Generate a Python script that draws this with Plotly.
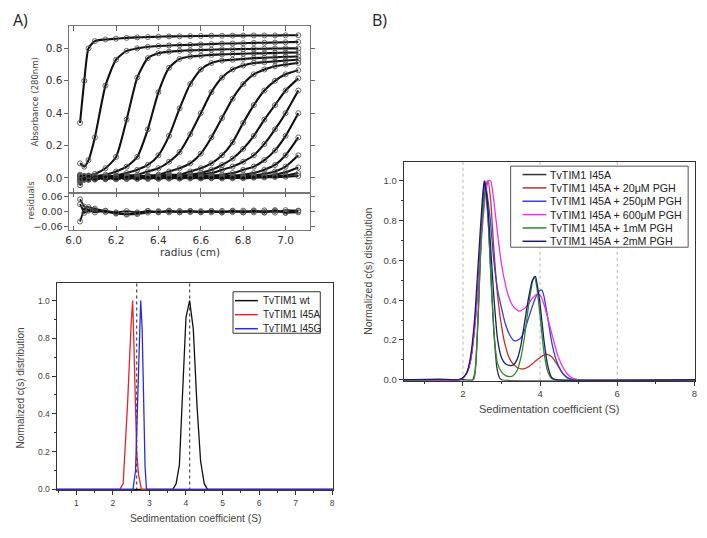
import plotly.graph_objects as go

W, H = 707, 538

# ---------------- Panel A (top): absorbance scans ----------------
radius_cm = [6.03, 6.05, 6.07, 6.10, 6.15, 6.20, 6.25, 6.30, 6.35, 6.40, 6.45, 6.50,
             6.55, 6.60, 6.65, 6.70, 6.75, 6.80, 6.85, 6.90, 6.95, 7.00, 7.06]

scan_01 = [0.34, 0.60, 0.80, 0.845, 0.855, 0.86, 0.865, 0.868, 0.87, 0.872, 0.874, 0.875,
           0.876, 0.877, 0.878, 0.878, 0.879, 0.879, 0.88, 0.88, 0.88, 0.881, 0.881]
scan_02 = [0.09, 0.07, 0.11, 0.25, 0.57, 0.73, 0.785, 0.80, 0.81, 0.815, 0.818, 0.82,
           0.822, 0.825, 0.827, 0.83, 0.83, 0.832, 0.834, 0.835, 0.836, 0.838, 0.84]
scan_03 = [-0.03, 0.01, 0.015, 0.025, 0.06, 0.13, 0.36, 0.62, 0.74, 0.77, 0.78, 0.785,
           0.788, 0.79, 0.792, 0.794, 0.795, 0.796, 0.797, 0.798, 0.799, 0.80, 0.80]
scan_04 = [-0.045, 0.005, 0.01, 0.012, 0.02, 0.04, 0.07, 0.13, 0.30, 0.53, 0.68, 0.735,
           0.75, 0.755, 0.76, 0.763, 0.765, 0.767, 0.769, 0.77, 0.772, 0.774, 0.775]
scan_05 = [0.02, 0.004, 0.005, 0.008, 0.01, 0.015, 0.03, 0.05, 0.08, 0.14, 0.26, 0.43,
           0.58, 0.67, 0.71, 0.725, 0.73, 0.735, 0.74, 0.742, 0.745, 0.748, 0.75]
scan_06 = [-0.02, -0.005, 0.004, 0.005, 0.005, 0.01, 0.015, 0.02, 0.04, 0.06, 0.10, 0.16,
           0.27, 0.40, 0.53, 0.62, 0.67, 0.695, 0.71, 0.715, 0.72, 0.725, 0.73]
scan_07 = [0.01, 0.006, -0.004, 0.003, 0.005, 0.005, 0.01, 0.01, 0.015, 0.02, 0.04, 0.06,
           0.09, 0.15, 0.25, 0.37, 0.49, 0.58, 0.64, 0.67, 0.69, 0.70, 0.71]
scan_08 = [-0.01, -0.006, 0.005, -0.003, 0.004, 0.005, 0.005, 0.01, 0.01, 0.015, 0.02, 0.02,
           0.04, 0.06, 0.09, 0.14, 0.22, 0.34, 0.45, 0.54, 0.60, 0.64, 0.665]
scan_09 = [0.005, 0.008, -0.006, 0.004, -0.004, 0.003, 0.005, 0.005, 0.01, 0.01, 0.012, 0.015,
           0.02, 0.03, 0.05, 0.08, 0.12, 0.18, 0.26, 0.36, 0.45, 0.54, 0.615]
scan_10 = [-0.015, -0.008, 0.006, -0.005, 0.003, -0.004, 0.004, 0.005, 0.005, 0.005, 0.01, 0.01,
           0.012, 0.02, 0.03, 0.05, 0.07, 0.10, 0.14, 0.21, 0.30, 0.40, 0.54]
scan_11 = [0.0, 0.01, -0.008, 0.006, -0.005, 0.004, -0.003, 0.003, -0.002, 0.005, 0.005, 0.005,
           0.01, 0.01, 0.015, 0.02, 0.03, 0.05, 0.07, 0.11, 0.17, 0.26, 0.40]
scan_12 = [0.012, -0.01, 0.008, -0.006, 0.005, -0.004, 0.004, -0.003, 0.003, -0.002, 0.003, 0.005,
           0.005, 0.005, 0.01, 0.01, 0.015, 0.02, 0.03, 0.05, 0.08, 0.14, 0.25]
scan_13 = [-0.008, 0.012, -0.01, 0.007, -0.006, 0.005, -0.005, 0.004, -0.004, 0.003, -0.003, 0.002,
           0.003, 0.005, 0.005, 0.005, 0.008, 0.01, 0.015, 0.025, 0.04, 0.07, 0.14]
scan_14 = [0.006, -0.012, 0.01, -0.008, 0.006, -0.006, 0.005, -0.004, 0.004, -0.004, 0.003, -0.003,
           0.002, -0.002, 0.002, 0.003, 0.004, 0.005, 0.007, 0.01, 0.02, 0.035, 0.065]
scan_15 = [-0.012, 0.008, -0.012, 0.009, -0.008, 0.007, -0.006, 0.005, -0.005, 0.004, -0.004, 0.003,
           -0.003, 0.003, -0.002, 0.002, -0.002, 0.003, 0.005, 0.007, 0.01, 0.015, 0.03]
scan_16 = [0.015, -0.006, 0.012, -0.01, 0.008, -0.008, 0.006, -0.006, 0.005, -0.005, 0.004, -0.004,
           0.003, -0.003, 0.003, -0.003, 0.002, -0.002, 0.002, 0.003, 0.005, 0.008, 0.012]
scans = [scan_01, scan_02, scan_03, scan_04, scan_05, scan_06, scan_07, scan_08,
         scan_09, scan_10, scan_11, scan_12, scan_13, scan_14, scan_15, scan_16]

resid_1 = [0.05, 0.02, 0.018, 0.012, 0.004, -0.008, -0.012, -0.01, -0.004, 0.002, -0.003, 0.003,
           -0.002, 0.002, -0.003, 0.003, -0.002, 0.004, -0.003, 0.005, -0.004, 0.006, 0.004]
resid_2 = [-0.04, 0.012, 0.008, 0.006, -0.002, -0.006, -0.01, -0.006, 0.003, -0.003, 0.004, -0.002,
           0.003, -0.003, 0.002, -0.004, 0.004, -0.003, 0.005, -0.004, 0.006, -0.005, -0.003]
resid_3 = [0.03, -0.005, 0.004, -0.003, 0.003, -0.003, 0.002, -0.003, 0.002, -0.002, 0.002, -0.003,
           0.002, -0.002, 0.003, -0.002, 0.002, -0.003, 0.002, -0.003, 0.004, -0.004, 0.003]
residuals = [resid_1, resid_2, resid_3]

# ---------------- Panel A (bottom): c(s) of variants ----------------
wt_s = [0.46, 3.64, 3.73, 3.82, 3.9, 4.0, 4.1, 4.2, 4.3, 4.4, 4.5, 4.59, 8.03]
wt_c = [0, 0, 0.03, 0.13, 0.48, 0.91, 1.0, 0.85, 0.45, 0.15, 0.03, 0, 0]
i45a_s = [0.46, 2.19, 2.28, 2.4, 2.5, 2.54, 2.57, 2.61, 2.65, 2.7, 2.78, 8.03]
i45a_c = [0, 0, 0.03, 0.45, 0.88, 1.0, 0.8, 0.45, 0.2, 0.08, 0, 0]
i45g_s = [0.46, 2.55, 2.62, 2.68, 2.72, 2.76, 2.8, 2.84, 2.88, 2.92, 8.03]
i45g_c = [0, 0, 0.1, 0.55, 0.8, 1.0, 0.85, 0.4, 0.12, 0, 0]
variant_names = ["TvTIM1 wt", "TvTIM1 I45A", "TvTIM1 I45G"]
variant_colors = ["#111111", "#e3242b", "#2a2ae0"]
variant_peaks = [2.65, 4.1]

# ---------------- Panel B: c(s) with PGH ----------------
b0_s = [0.46, 2.0, 2.25, 2.32, 2.4, 2.48, 2.56, 2.64, 2.72, 2.8, 2.88, 2.95, 3.0, 8.02]
b0_c = [0, 0, 0, 0.05, 0.35, 0.75, 1.0, 0.85, 0.55, 0.25, 0.06, 0.01, 0, 0]
b20_s = [0.46, 1.9, 2.0, 2.1, 2.2, 2.3, 2.4, 2.5, 2.6, 2.65, 2.72, 2.8, 2.9, 3.0, 3.1, 3.2,
         3.3, 3.4, 3.5, 3.6, 3.7, 3.8, 3.9, 4.0, 4.1, 4.18, 4.3, 4.4, 4.5, 4.6, 4.7, 4.8, 8.02]
b20_c = [0, 0, 0.01, 0.035, 0.1, 0.26, 0.5, 0.8, 0.98, 1.0, 0.9, 0.66, 0.42, 0.27, 0.17, 0.11,
         0.08, 0.063, 0.055, 0.056, 0.065, 0.08, 0.097, 0.112, 0.124, 0.128, 0.116, 0.09, 0.058,
         0.028, 0.01, 0.002, 0]
b250_s = [0.46, 1.9, 2.0, 2.1, 2.2, 2.3, 2.4, 2.5, 2.57, 2.7, 2.8, 2.9, 3.0, 3.1, 3.2, 3.3,
          3.37, 3.5, 3.6, 3.7, 3.8, 3.9, 4.0, 4.05, 4.1, 4.2, 4.3, 4.4, 4.5, 4.6, 4.7, 4.8, 4.9, 8.02]
b250_c = [0, 0, 0.01, 0.035, 0.1, 0.26, 0.5, 0.8, 1.0, 0.82, 0.6, 0.45, 0.36, 0.28, 0.23, 0.2,
          0.195, 0.21, 0.25, 0.31, 0.37, 0.42, 0.45, 0.45, 0.42, 0.31, 0.19, 0.11, 0.06, 0.03,
          0.012, 0.003, 0, 0]
b600_s = [0.46, 1.9, 2.0, 2.1, 2.2, 2.3, 2.4, 2.5, 2.6, 2.66, 2.72, 2.8, 2.9, 3.0, 3.1, 3.2,
          3.3, 3.45, 3.6, 3.7, 3.8, 3.93, 4.0, 4.1, 4.2, 4.3, 4.4, 4.5, 4.6, 4.7, 4.8, 4.9, 5.0, 8.02]
b600_c = [0, 0, 0.01, 0.035, 0.1, 0.25, 0.48, 0.76, 0.95, 1.0, 1.0, 0.9, 0.73, 0.58, 0.48, 0.41,
          0.37, 0.345, 0.36, 0.38, 0.41, 0.43, 0.425, 0.38, 0.31, 0.235, 0.16, 0.1, 0.06, 0.03,
          0.012, 0.004, 0, 0]
b1mm_s = [0.46, 2.27, 2.33, 2.4, 2.48, 2.58, 2.66, 2.74, 2.82, 2.9, 3.0, 3.1, 3.2, 3.3, 3.4,
          3.5, 3.6, 3.7, 3.8, 3.85, 3.92, 4.0, 4.1, 4.2, 4.3, 4.4, 8.02]
b1mm_c = [0, 0, 0.08, 0.35, 0.75, 0.95, 0.78, 0.45, 0.2, 0.08, 0.04, 0.022, 0.016, 0.02, 0.045,
          0.11, 0.22, 0.37, 0.49, 0.52, 0.46, 0.32, 0.14, 0.04, 0.006, 0, 0]
b2mm_s = [0.46, 1.4, 1.9, 2.0, 2.1, 2.2, 2.3, 2.4, 2.5, 2.55, 2.62, 2.7, 2.8, 2.9, 3.0, 3.1,
          3.2, 3.3, 3.4, 3.5, 3.6, 3.7, 3.8, 3.88, 3.95, 4.0, 4.1, 4.2, 4.3, 4.4, 8.02]
b2mm_c = [0, 0.003, 0, 0.01, 0.035, 0.12, 0.3, 0.6, 0.9, 1.0, 0.92, 0.72, 0.42, 0.2, 0.11,
          0.08, 0.072, 0.074, 0.1, 0.17, 0.29, 0.41, 0.5, 0.52, 0.45, 0.38, 0.2, 0.07, 0.012,
          0, 0]
pgh_names = ["TvTIM1 I45A", "TvTIM1 I45A + 20μM PGH", "TvTIM1 I45A + 250μM PGH",
             "TvTIM1 I45A + 600μM PGH", "TvTIM1 I45A + 1mM PGH", "TvTIM1 I45A + 2mM PGH"]
pgh_colors = ["#333333", "#c4302b", "#3b3bd6", "#ee30ee", "#2f8a2f", "#1c1c6a"]
pgh_grid = [2, 4, 6]


def px(xp):
    return xp / W


def py(yp):
    return 1 - yp / H


fig = go.Figure()

# Panel A top scans
for sc in scans:
    fig.add_trace(go.Scatter(
        x=radius_cm, y=sc, mode="lines+markers", xaxis="x", yaxis="y", showlegend=False,
        line=dict(color="#111111", width=2.1, shape="spline", smoothing=0.6),
        marker=dict(symbol="circle-open", size=5, color="#555555", line=dict(width=0.9))))
for rs in residuals:
    fig.add_trace(go.Scatter(
        x=radius_cm, y=rs, mode="lines+markers", xaxis="x2", yaxis="y2", showlegend=False,
        line=dict(color="#111111", width=1.8),
        marker=dict(symbol="circle-open", size=5, color="#555555", line=dict(width=0.9))))

# Panel A bottom
for xs, ys, col in [(wt_s, wt_c, variant_colors[0]), (i45a_s, i45a_c, variant_colors[1]),
                    (i45g_s, i45g_c, variant_colors[2])]:
    fig.add_trace(go.Scatter(x=xs, y=ys, mode="lines", xaxis="x3", yaxis="y3",
                             showlegend=False, line=dict(color=col, width=1.3)))

# Panel B
for xs, ys, col in zip([b0_s, b20_s, b250_s, b600_s, b1mm_s, b2mm_s],
                       [b0_c, b20_c, b250_c, b600_c, b1mm_c, b2mm_c], pgh_colors):
    fig.add_trace(go.Scatter(x=xs, y=ys, mode="lines", xaxis="x4", yaxis="y4",
                             showlegend=False,
                             line=dict(color=col, width=1.3, shape="spline", smoothing=0.5)))

dv = dict(family="DejaVu Sans", size=10.5, color="#333333")
dvs = dict(family="DejaVu Sans", size=9.5, color="#333333")
ar = dict(family="Liberation Sans", size=8.5, color="#444444")
ar9 = dict(family="Liberation Sans", size=9.5, color="#444444")

common = dict(showgrid=False, zeroline=False, showline=True)

fig.update_layout(
    width=W, height=H, margin=dict(l=0, r=0, t=0, b=0),
    paper_bgcolor="white", plot_bgcolor="white", showlegend=False,
    xaxis=dict(domain=[px(66), px(309)], anchor="y", range=[5.98, 7.117],
               tickvals=[6.0, 6.2, 6.4, 6.6, 6.8, 7.0], showticklabels=False,
               ticks="inside", ticklen=5, tickcolor="#666", mirror="ticks",
               linecolor="#777", **common),
    yaxis=dict(domain=[py(193), py(24)], anchor="x", range=[-0.092, 0.94],
               tickvals=[0, 0.2, 0.4, 0.6, 0.8], ticktext=["0.0", "0.2", "0.4", "0.6", "0.8"],
               ticks="outside", ticklen=4, tickcolor="#666", mirror="ticks",
               linecolor="#777", tickfont=dv, **common),
    xaxis2=dict(domain=[px(66), px(309)], anchor="y2", range=[5.98, 7.117],
                tickvals=[6.0, 6.2, 6.4, 6.6, 6.8, 7.0],
                ticktext=["6.0", "6.2", "6.4", "6.6", "6.8", "7.0"],
                ticks="inside", ticklen=4, tickcolor="#666", mirror="ticks",
                linecolor="#777", tickfont=dv, **common),
    yaxis2=dict(domain=[py(231), py(193)], anchor="x2", range=[-0.076, 0.076],
                tickvals=[-0.06, 0, 0.06], ticktext=["−0.06", "0.00", "0.06"],
                ticks="outside", ticklen=4, tickcolor="#666", mirror="ticks",
                linecolor="#777", tickfont=dvs, **common),
    xaxis3=dict(domain=[px(53), px(332)], anchor="y3", range=[0.457, 8.03],
                tickvals=[1, 2, 3, 4, 5, 6, 7, 8], ticks="outside", ticklen=4,
                tickcolor="#333", minor=dict(ticks="outside", ticklen=2, dtick=0.5, tick0=0.5,
                                             tickcolor="#333"),
                mirror=True, linecolor="#333", tickfont=ar, layer="below traces", **common),
    yaxis3=dict(domain=[py(494), py(284)], anchor="x3", range=[-0.006, 1.094],
                tickvals=[0, 0.2, 0.4, 0.6, 0.8, 1.0],
                ticktext=["0.0", "0.2", "0.4", "0.6", "0.8", "1.0"],
                ticks="outside", ticklen=4, tickcolor="#333",
                minor=dict(ticks="outside", ticklen=2, dtick=0.1, tick0=0, tickcolor="#333"),
                mirror=True, linecolor="#333", tickfont=ar, layer="below traces", **common),
    xaxis4=dict(domain=[px(403), px(697)], anchor="y4", range=[0.46, 8.02],
                tickvals=[2, 4, 6, 8], ticks="outside", ticklen=4, tickcolor="#333",
                minor=dict(ticks="outside", ticklen=2, dtick=1, tick0=0, tickcolor="#333"),
                mirror=True, linecolor="#333", tickfont=ar9, layer="below traces",
                ticklabeloverflow="allow", **common),
    yaxis4=dict(domain=[py(383), py(162)], anchor="x4", range=[-0.005, 1.094],
                tickvals=[0, 0.2, 0.4, 0.6, 0.8, 1.0],
                ticktext=["0.0", "0.2", "0.4", "0.6", "0.8", "1.0"],
                ticks="outside", ticklen=4, tickcolor="#333",
                minor=dict(ticks="outside", ticklen=2, dtick=0.1, tick0=0, tickcolor="#333"),
                mirror=True, linecolor="#333", tickfont=ar9, layer="below traces", **common),
)

shapes = []
for xv in variant_peaks:
    shapes.append(dict(type="line", xref="x3", yref="y3 domain", x0=xv, x1=xv, y0=0, y1=1,
                       line=dict(color="#555555", width=1.3, dash="dot"), layer="below"))
for xv in pgh_grid:
    shapes.append(dict(type="line", xref="x4", yref="y4 domain", x0=xv, x1=xv, y0=0, y1=1,
                       line=dict(color="#b5b5b5", width=1, dash="dot"), layer="below"))

annotations = []
# legend A bottom
shapes.append(dict(type="rect", xref="paper", yref="paper", x0=px(231), x1=px(319),
                   y0=py(335), y1=py(293), line=dict(color="#333", width=1),
                   fillcolor="white"))
for i, (nm, col) in enumerate(zip(variant_names, variant_colors)):
    yy = 302 + i * 14.2
    shapes.append(dict(type="line", xref="paper", yref="paper", x0=px(233), x1=px(256),
                       y0=py(yy), y1=py(yy), line=dict(color=col, width=1.5)))
    annotations.append(dict(x=px(259), y=py(yy), xref="paper", yref="paper", text=nm,
                            showarrow=False, xanchor="left", yanchor="middle",
                            font=dict(family="Liberation Sans", size=10, color="#222")))
# legend B
shapes.append(dict(type="rect", xref="paper", yref="paper", x0=px(511), x1=px(690),
                   y0=py(248), y1=py(166), line=dict(color="#555", width=1),
                   fillcolor="white"))
for i, (nm, col) in enumerate(zip(pgh_names, pgh_colors)):
    yy = 174.5 + i * 13.5
    shapes.append(dict(type="line", xref="paper", yref="paper", x0=px(523), x1=px(547),
                       y0=py(yy), y1=py(yy), line=dict(color=col, width=1.5)))
    annotations.append(dict(x=px(549), y=py(yy), xref="paper", yref="paper", text=nm,
                            showarrow=False, xanchor="left", yanchor="middle",
                            font=dict(family="Liberation Sans", size=10.7, color="#222")))

# titles
annotations += [
    dict(x=px(7), y=py(18), text="A)", xanchor="left", yanchor="middle",
         font=dict(family="Open Sans", size=16, color="#222")),
    dict(x=px(369), y=py(18), text="B)", xanchor="left", yanchor="middle",
         font=dict(family="Open Sans", size=16, color="#222")),
    dict(x=px(31), y=py(101), text="Absorbance (280nm)", textangle=-90,
         xanchor="center", yanchor="middle",
         font=dict(family="DejaVu Sans", size=8.5, color="#444")),
    dict(x=px(27), y=py(200), text="residuals", textangle=-90,
         xanchor="center", yanchor="middle",
         font=dict(family="DejaVu Sans", size=8.5, color="#444")),
    dict(x=px(188), y=py(253), text="radius (cm)", xanchor="center", yanchor="middle",
         font=dict(family="DejaVu Sans", size=10.5, color="#333")),
    dict(x=px(17), y=py(390), text="Normalized c(s) distribution", textangle=-90,
         xanchor="center", yanchor="middle",
         font=dict(family="Liberation Sans", size=10, color="#444")),
    dict(x=px(193), y=py(522), text="Sedimentation coefficient (S)",
         xanchor="center", yanchor="middle",
         font=dict(family="Liberation Sans", size=10.3, color="#444")),
    dict(x=px(367), y=py(272), text="Normalized c(s) distribution", textangle=-90,
         xanchor="center", yanchor="middle",
         font=dict(family="Liberation Sans", size=10.5, color="#444")),
    dict(x=px(550), y=py(412), text="Sedimentation coefficient (S)",
         xanchor="center", yanchor="middle",
         font=dict(family="Liberation Sans", size=11, color="#444")),
]
for a in annotations:
    a.setdefault("xref", "paper")
    a.setdefault("yref", "paper")
    a.setdefault("showarrow", False)

fig.update_layout(shapes=shapes, annotations=annotations)
fig.write_html("out.html", config={"displayModeBar": False},
               post_script="document.body.style.margin='0px';"
                           "document.body.style.overflow='hidden';")
